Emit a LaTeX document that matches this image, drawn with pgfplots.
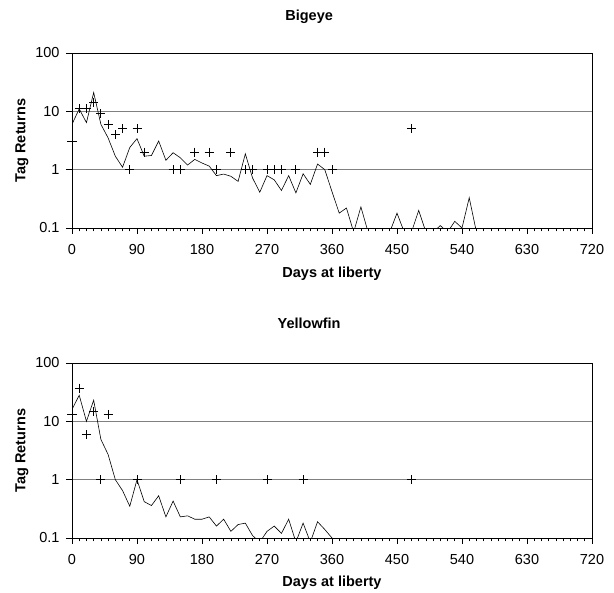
\documentclass[border=0pt]{standalone}
\usepackage{fontspec}
\setmainfont{Liberation Sans}
\usepackage{pgfplots}
\pgfplotsset{compat=1.18}

\pgfplotstableread{
day val
0 6
10 11
20 6.4
30 21
40 6
50 3.5
60 1.7
70 1.1
80 2.4
90 3.4
100 1.7
110 1.75
120 3.1
130 1.45
140 1.95
150 1.6
160 1.2
170 1.5
180 1.3
190 1.15
200 0.79
210 0.84
220 0.77
230 0.63
240 1.87
250 0.72
260 0.41
270 0.79
280 0.67
290 0.44
300 0.79
310 0.40
320 0.85
330 0.56
340 1.25
350 1.0
360 0.42
370 0.18
380 0.22
390 0.085
400 0.23
410 0.085
420 0.085
430 0.085
440 0.085
450 0.18
460 0.085
470 0.085
480 0.2
490 0.085
500 0.085
510 0.11
520 0.085
530 0.13
540 0.1
550 0.33
560 0.085
}\bigeyeline

\pgfplotstableread{
day val
0 3
10 11
20 11
30 14
40 9
50 6
60 4
70 5
80 1
90 5
100 2
140 1
150 1
170 2
190 2
200 1
220 2
240 1
250 1
270 1
280 1
290 1
310 1
340 2
350 2
360 1
470 5
}\bigeyemarks

\pgfplotstableread{
day val
0 16
10 28
20 10
30 23
40 4.9
50 2.7
60 1.0
70 0.65
80 0.35
90 1.0
100 0.42
110 0.36
120 0.53
130 0.23
140 0.43
150 0.23
160 0.24
170 0.21
180 0.21
190 0.23
200 0.16
210 0.21
220 0.13
230 0.17
240 0.18
250 0.11
260 0.085
270 0.13
280 0.16
290 0.12
300 0.21
310 0.085
320 0.18
330 0.085
340 0.19
350 0.14
360 0.1
370 0.085
}\yellowline

\pgfplotstableread{
day val
0 13
10 37
20 6
30 15
40 1
50 13
90 1
150 1
200 1
270 1
320 1
470 1
}\yellowmarks

\begin{document}
\begin{tikzpicture}
\useasboundingbox (0,0) rectangle (614bp,593bp);
\begin{axis}[
    at={(72bp,365bp)}, anchor=south west,
    ymode=log, scale only axis, width=520bp, height=175bp,
    xmin=0, xmax=720, ymin=0.1, ymax=100,
    xtick={0,90,...,720},
    minor xtick={10,20,...,710},
    ytick={0.1,1,10,100}, yticklabels={0.1,1,10,100},
    yminorticks=false,
    xtick pos=bottom, ytick pos=left,
    tick align=outside,
    major tick length=6bp, minor tick length=3.5bp,
    ymajorgrids, grid style={black!50, line width=0.5bp},
    axis line style={line width=0.9bp},
    tick style={black, line width=0.6bp},
    /pgf/number format/assume math mode=true,
    tick label style={font=\fontsize{14.5bp}{17bp}\selectfont},
    xticklabel style={yshift=-7bp},
    yticklabel style={xshift=-3bp},
    xlabel={Days at liberty},
    ylabel={Tag Returns},
    label style={font=\bfseries\fontsize{14.5bp}{17bp}\selectfont},
    xlabel style={at={(axis description cs:0.5,-0.262)}, anchor=center},
    ylabel style={at={(axis description cs:-0.0962,0.5)}, anchor=center},
    title={Bigeye},
    title style={at={(axis description cs:0.456,1.175)}, anchor=center, font=\bfseries\fontsize{14.5bp}{17bp}\selectfont},
  ]
\addplot[black, line width=0.6bp, mark=none] table[x=day, y=val] {\bigeyeline};
\addplot[only marks, mark=+, mark size=4.5bp, mark options={line width=1bp, black}] table[x=day, y=val] {\bigeyemarks};
\end{axis}
\begin{axis}[
    at={(72bp,55bp)}, anchor=south west,
    ymode=log, scale only axis, width=520bp, height=175bp,
    xmin=0, xmax=720, ymin=0.1, ymax=100,
    xtick={0,90,...,720},
    minor xtick={10,20,...,710},
    ytick={0.1,1,10,100}, yticklabels={0.1,1,10,100},
    yminorticks=false,
    xtick pos=bottom, ytick pos=left,
    tick align=outside,
    major tick length=6bp, minor tick length=3.5bp,
    ymajorgrids, grid style={black!50, line width=0.5bp},
    axis line style={line width=0.9bp},
    tick style={black, line width=0.6bp},
    /pgf/number format/assume math mode=true,
    tick label style={font=\fontsize{14.5bp}{17bp}\selectfont},
    xticklabel style={yshift=-7bp},
    yticklabel style={xshift=-3bp},
    xlabel={Days at liberty},
    ylabel={Tag Returns},
    label style={font=\bfseries\fontsize{14.5bp}{17bp}\selectfont},
    xlabel style={at={(axis description cs:0.5,-0.254)}, anchor=center},
    ylabel style={at={(axis description cs:-0.0962,0.5)}, anchor=center},
    title={Yellowfin},
    title style={at={(axis description cs:0.456,1.19)}, anchor=center, font=\bfseries\fontsize{14.5bp}{17bp}\selectfont},
  ]
\addplot[black, line width=0.6bp, mark=none] table[x=day, y=val] {\yellowline};
\addplot[only marks, mark=+, mark size=4.5bp, mark options={line width=1bp, black}] table[x=day, y=val] {\yellowmarks};
\end{axis}
\end{tikzpicture}
\end{document}
